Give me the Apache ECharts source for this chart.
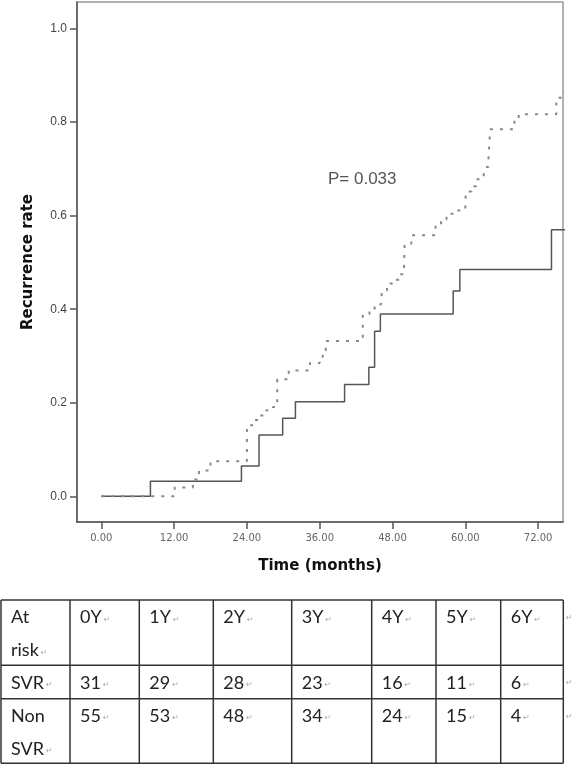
<!DOCTYPE html>
<html>
<head>
<meta charset="utf-8">
<script src="https://cdn.jsdelivr.net/npm/echarts@6/dist/echarts.min.js"></script>
<style>
  html, body { margin: 0; padding: 0; background: #fff; }
  #main { width: 575px; height: 766px; }
</style>
</head>
<body>
<div id="main"></div>
<script>
// SVR curve (solid)
var svrTime = [0, 8.1, 23.1, 26.0, 29.9, 32.0, 40.1, 44.1, 45.05, 46.0, 58.0, 59.1, 74.2, 76.5];
var svrRate = [0, 0.032, 0.065, 0.131, 0.167, 0.202, 0.239, 0.276, 0.353, 0.39, 0.439, 0.485, 0.570, 0.570];

// Non SVR curve (dotted)
var nonTime = [0, 12.1, 15.1, 16.1, 18.0, 24.0, 25.2, 26.2, 27.2, 28.3, 29.0, 30.9, 34.4, 36.0, 36.5, 37.0,
  43.1, 44.2, 45.05, 46.1, 46.3, 47.1, 48.1, 49.05, 49.9, 50.0, 51.1, 55.1, 56.0, 56.9, 58.0,
  60.0, 60.1, 61.0, 61.8, 63.0, 63.3, 63.8, 64.1, 68.1, 68.8, 75.0, 75.9, 76.5];
var nonRate = [0, 0.019, 0.036, 0.055, 0.075, 0.152, 0.163, 0.173, 0.184, 0.191, 0.25, 0.269, 0.285, 0.298, 0.312, 0.332,
  0.39, 0.398, 0.41, 0.421, 0.44, 0.455, 0.463, 0.475, 0.487, 0.54, 0.558, 0.579, 0.592, 0.604, 0.611,
  0.629, 0.652, 0.663, 0.678, 0.685, 0.704, 0.718, 0.785, 0.804, 0.817, 0.852, 0.863, 0.863];

var xTicks = [0, 12, 24, 36, 48, 60, 72];
var yTicks = [0, 0.2, 0.4, 0.6, 0.8, 1.0];

// at-risk table
var tableHead = ['At\nrisk', '0Y', '1Y', '2Y', '3Y', '4Y', '5Y', '6Y'];
var rowLabels = ['SVR', 'Non\nSVR'];
var svrAtRisk = [31, 29, 28, 23, 16, 11, 6];
var nonSvrAtRisk = [55, 53, 48, 34, 24, 15, 4];

var colX = [1, 70, 139.3, 213.3, 291.7, 371.7, 436, 500.7, 563.3];
var rowY = [600, 665.3, 698.7, 763.3];

function cellText(str) {
  var lines = String(str).split('\n');
  return lines.map(function (l, i) {
    return '{t|' + l + '}' + (i === lines.length - 1 ? '{m|↵}' : '');
  }).join('\n');
}

var graphics = [];
// table grid lines
rowY.forEach(function (y) {
  graphics.push({ type: 'line', shape: { x1: colX[0], y1: y, x2: colX[colX.length - 1], y2: y },
    style: { stroke: '#333', lineWidth: 1.5 } });
});
colX.forEach(function (x) {
  graphics.push({ type: 'line', shape: { x1: x, y1: rowY[0], x2: x, y2: rowY[rowY.length - 1] },
    style: { stroke: '#333', lineWidth: 1.5 } });
});
var rows = [tableHead, [rowLabels[0]].concat(svrAtRisk), [rowLabels[1]].concat(nonSvrAtRisk)];
rows.forEach(function (row, r) {
  row.forEach(function (v, c) {
    graphics.push({
      type: 'text', x: colX[c] + 10, y: rowY[r] + 1,
      style: {
        text: cellText(v),
        rich: {
          t: { fontFamily: 'Lato', fontSize: 18, fill: '#222', lineHeight: 33 },
          m: { fontFamily: 'DejaVu Sans', fontSize: 8, fill: '#aaa', lineHeight: 33, padding: [4, 0, 0, 2] }
        }
      }
    });
  });
  // paragraph mark at end of each row
  graphics.push({
    type: 'text', x: 566, y: rowY[r] + 14,
    style: { text: '↵', fontFamily: 'DejaVu Sans', fontSize: 8, fill: '#aaa' }
  });
});
// p-value
graphics.push({
  type: 'text', x: 328, y: 171,
  style: { text: 'P= 0.033', fontFamily: 'Liberation Sans', fontSize: 17, fill: '#555' }
});

var myChart = echarts.init(document.getElementById('main'));
var option = {
  backgroundColor: '#fff',
  animation: false,
  grid: {
    left: 77, top: 2, width: 486, height: 520,
    show: true, borderColor: '#999', borderWidth: 1.5, backgroundColor: 'transparent'
  },
  xAxis: {
    type: 'value', min: -4, max: 76.1,
    name: 'Time (months)', nameLocation: 'middle', nameGap: 37,
    nameTextStyle: { fontFamily: 'DejaVu Sans', fontWeight: 'bold', fontSize: 15, color: '#111' },
    axisLine: { show: true, onZero: false, lineStyle: { color: '#555', width: 1.5 } },
    axisTick: { show: true, length: 7, customValues: xTicks, lineStyle: { color: '#555', width: 1.5 } },
    axisLabel: {
      customValues: xTicks, margin: 11, fontFamily: 'DejaVu Sans', fontSize: 10, color: '#666',
      formatter: function (v) { return v.toFixed(2); }
    },
    splitLine: { show: false }
  },
  yAxis: {
    type: 'value', min: -0.055, max: 1.057,
    name: 'Recurrence rate', nameLocation: 'middle', nameGap: 41,
    nameTextStyle: { fontFamily: 'DejaVu Sans', fontWeight: 'bold', fontSize: 15, color: '#111' },
    axisLine: { show: true, onZero: false, lineStyle: { color: '#555', width: 1.5 } },
    axisTick: { show: true, length: 7, customValues: yTicks, lineStyle: { color: '#555', width: 1.5 } },
    axisLabel: {
      customValues: yTicks, margin: 10, fontFamily: 'Liberation Sans', fontSize: 12, color: '#444',
      formatter: function (v) { return v.toFixed(1); }
    },
    splitLine: { show: false }
  },
  series: [
    {
      name: 'SVR', type: 'line', step: 'end', symbol: 'none',
      lineStyle: { color: '#555', width: 1.5 },
      data: svrTime.map(function (t, i) { return [t, svrRate[i]]; })
    },
    {
      name: 'Non SVR', type: 'line', step: 'end', symbol: 'none',
      lineStyle: { color: '#888', width: 2, type: [3, 7] },
      data: nonTime.map(function (t, i) { return [t, nonRate[i]]; })
    }
  ],
  graphic: graphics
};
myChart.setOption(option);
</script>
</body>
</html>
